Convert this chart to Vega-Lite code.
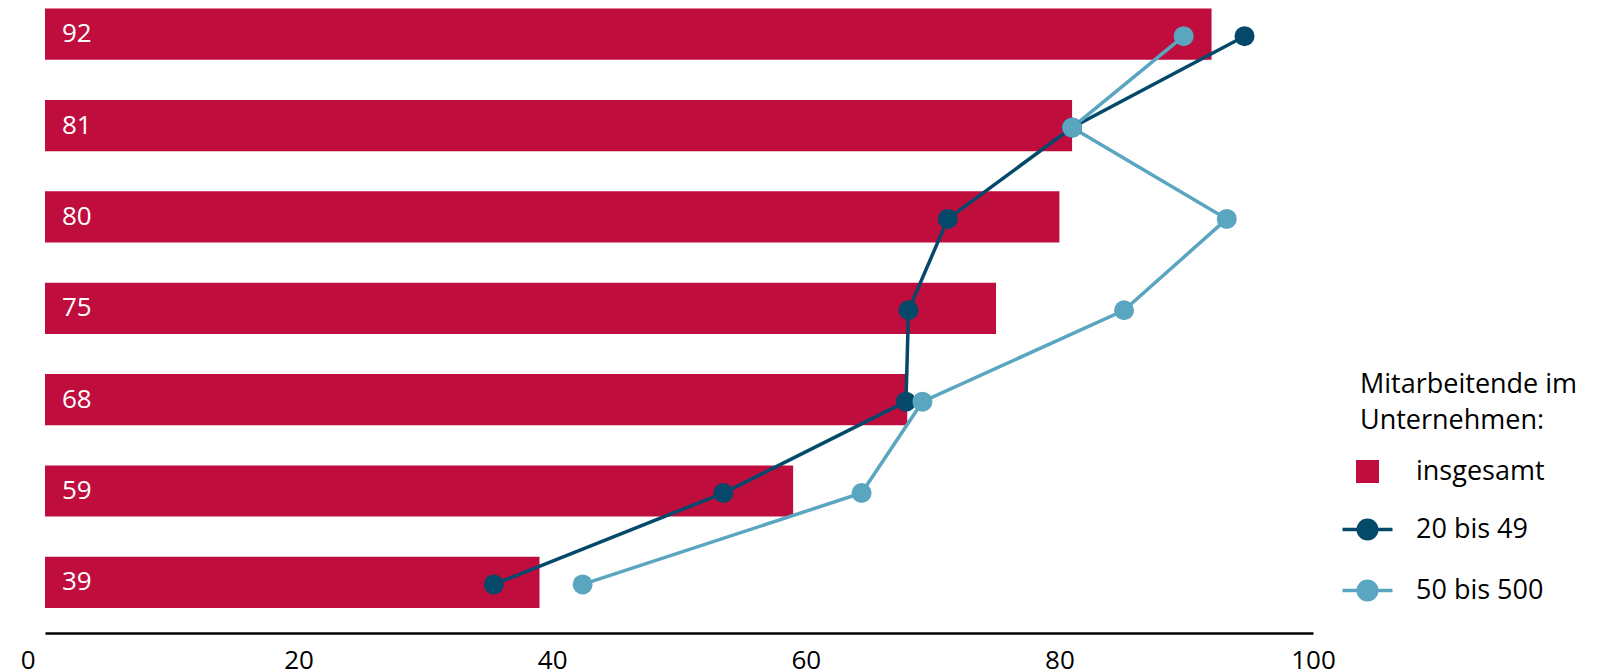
{
  "$schema": "https://vega.github.io/schema/vega-lite/v6.json",
  "width": 1268,
  "height": 633,
  "autosize": "none",
  "padding": {"left": 45, "top": 0, "right": 301, "bottom": 39},
  "config": {
    "view": {"stroke": null},
    "font": "Open Sans",
    "text": {"font": "Open Sans"}
  },
  "data": {
    "values": [
      {"row": "r1", "idx": 1, "group": "insgesamt", "value": 92},
      {"row": "r2", "idx": 2, "group": "insgesamt", "value": 81},
      {"row": "r3", "idx": 3, "group": "insgesamt", "value": 80},
      {"row": "r4", "idx": 4, "group": "insgesamt", "value": 75},
      {"row": "r5", "idx": 5, "group": "insgesamt", "value": 68},
      {"row": "r6", "idx": 6, "group": "insgesamt", "value": 59},
      {"row": "r7", "idx": 7, "group": "insgesamt", "value": 39},
      {"row": "r1", "idx": 1, "group": "20 bis 49", "value": 94.6},
      {"row": "r2", "idx": 2, "group": "20 bis 49", "value": 81.0},
      {"row": "r3", "idx": 3, "group": "20 bis 49", "value": 71.2},
      {"row": "r4", "idx": 4, "group": "20 bis 49", "value": 68.1},
      {"row": "r5", "idx": 5, "group": "20 bis 49", "value": 67.9},
      {"row": "r6", "idx": 6, "group": "20 bis 49", "value": 53.5},
      {"row": "r7", "idx": 7, "group": "20 bis 49", "value": 35.4},
      {"row": "r1", "idx": 1, "group": "50 bis 500", "value": 89.8},
      {"row": "r2", "idx": 2, "group": "50 bis 500", "value": 81.0},
      {"row": "r3", "idx": 3, "group": "50 bis 500", "value": 93.2},
      {"row": "r4", "idx": 4, "group": "50 bis 500", "value": 85.1},
      {"row": "r5", "idx": 5, "group": "50 bis 500", "value": 69.2},
      {"row": "r6", "idx": 6, "group": "50 bis 500", "value": 64.4},
      {"row": "r7", "idx": 7, "group": "50 bis 500", "value": 42.4}
    ]
  },
  "encoding": {
    "y": {
      "field": "row",
      "type": "nominal",
      "sort": null,
      "axis": null,
      "scale": {"paddingInner": 0.44, "paddingOuter": 0.184, "align": 0.256}
    },
    "x": {
      "field": "value",
      "type": "quantitative",
      "scale": {"domain": [0, 100], "nice": false},
      "axis": {
        "title": null,
        "values": [0, 20, 40, 60, 80, 100],
        "grid": false,
        "ticks": false,
        "tickSize": 0,
        "domainColor": "#000000",
        "domainWidth": 2.7,
        "labelColor": "#000000",
        "labelFontSize": 26,
        "labelFont": "Open Sans",
        "labelPadding": 14,
        "labelFlush": false,
        "labelAlign": {"expr": "datum.value === 0 ? 'right' : 'center'"},
        "labelOffset": {"expr": "datum.value === 0 ? -10 : 0"}
      }
    }
  },
  "layer": [
    {
      "transform": [{"filter": "datum.group === 'insgesamt'"}],
      "mark": {"type": "bar"},
      "encoding": {
        "color": {
          "field": "group",
          "type": "nominal",
          "scale": {
            "domain": ["insgesamt", "20 bis 49", "50 bis 500"],
            "range": ["#BF0D3E", "#05496A", "#5AA6C1"]
          },
          "legend": {
            "title": ["Mitarbeitende im", "Unternehmen:"],
            "orient": "none",
            "legendX": 1309,
            "legendY": 372,
            "titleFontSize": 27,
            "titleFontWeight": "normal",
            "titleColor": "#000000",
            "titleFont": "Open Sans",
            "titleLineHeight": 36,
            "titlePadding": 23,
            "titleBaseline": "top",
            "titleLimit": 600,
            "labelLimit": 600,
            "labelFontSize": 27,
            "labelFont": "Open Sans",
            "labelColor": "#000000",
            "labelOffset": 35,
            "symbolSize": 2500,
            "symbolStrokeWidth": 3.5,
            "rowPadding": 28,
            "encode": {
              "title": {"update": {"dx": {"value": 6}}},
              "symbols": {
                "update": {
                  "shape": {"signal": "datum.value === 'insgesamt' ? 'M-0.46,-0.46H0.46V0.46H-0.46Z' : 'M-1,0H1M0.37,0A0.37,0.37 0 1,1 -0.37,0A0.37,0.37 0 1,1 0.37,0Z'"},
                  "fill": {"signal": "scale('color', datum.value)"},
                  "stroke": {"signal": "scale('color', datum.value)"},
                  "strokeWidth": {"signal": "datum.value === 'insgesamt' ? 0 : 3.5"},
                  "opacity": {"value": 1},
                  "fillOpacity": {"value": 1},
                  "strokeOpacity": {"value": 1}
                }
              }
            }
          }
        }
      }
    },
    {
      "transform": [{"filter": "datum.group === 'insgesamt'"}],
      "mark": {"type": "text", "align": "left", "baseline": "middle", "dx": 17, "fontSize": 26, "color": "#ffffff", "font": "Open Sans"},
      "encoding": {
        "x": {"datum": 0},
        "text": {"field": "value", "type": "quantitative"}
      }
    },
    {
      "transform": [{"filter": "datum.group !== 'insgesamt'"}],
      "mark": {"type": "line", "strokeWidth": 3.5, "yOffset": 2},
      "encoding": {
        "color": {"field": "group", "type": "nominal"},
        "order": {"field": "idx", "type": "quantitative"}
      }
    },
    {
      "transform": [{"filter": "datum.group !== 'insgesamt'"}],
      "mark": {"type": "point", "filled": true, "size": 400, "opacity": 1, "yOffset": 2},
      "encoding": {
        "color": {"field": "group", "type": "nominal"}
      }
    }
  ]
}
